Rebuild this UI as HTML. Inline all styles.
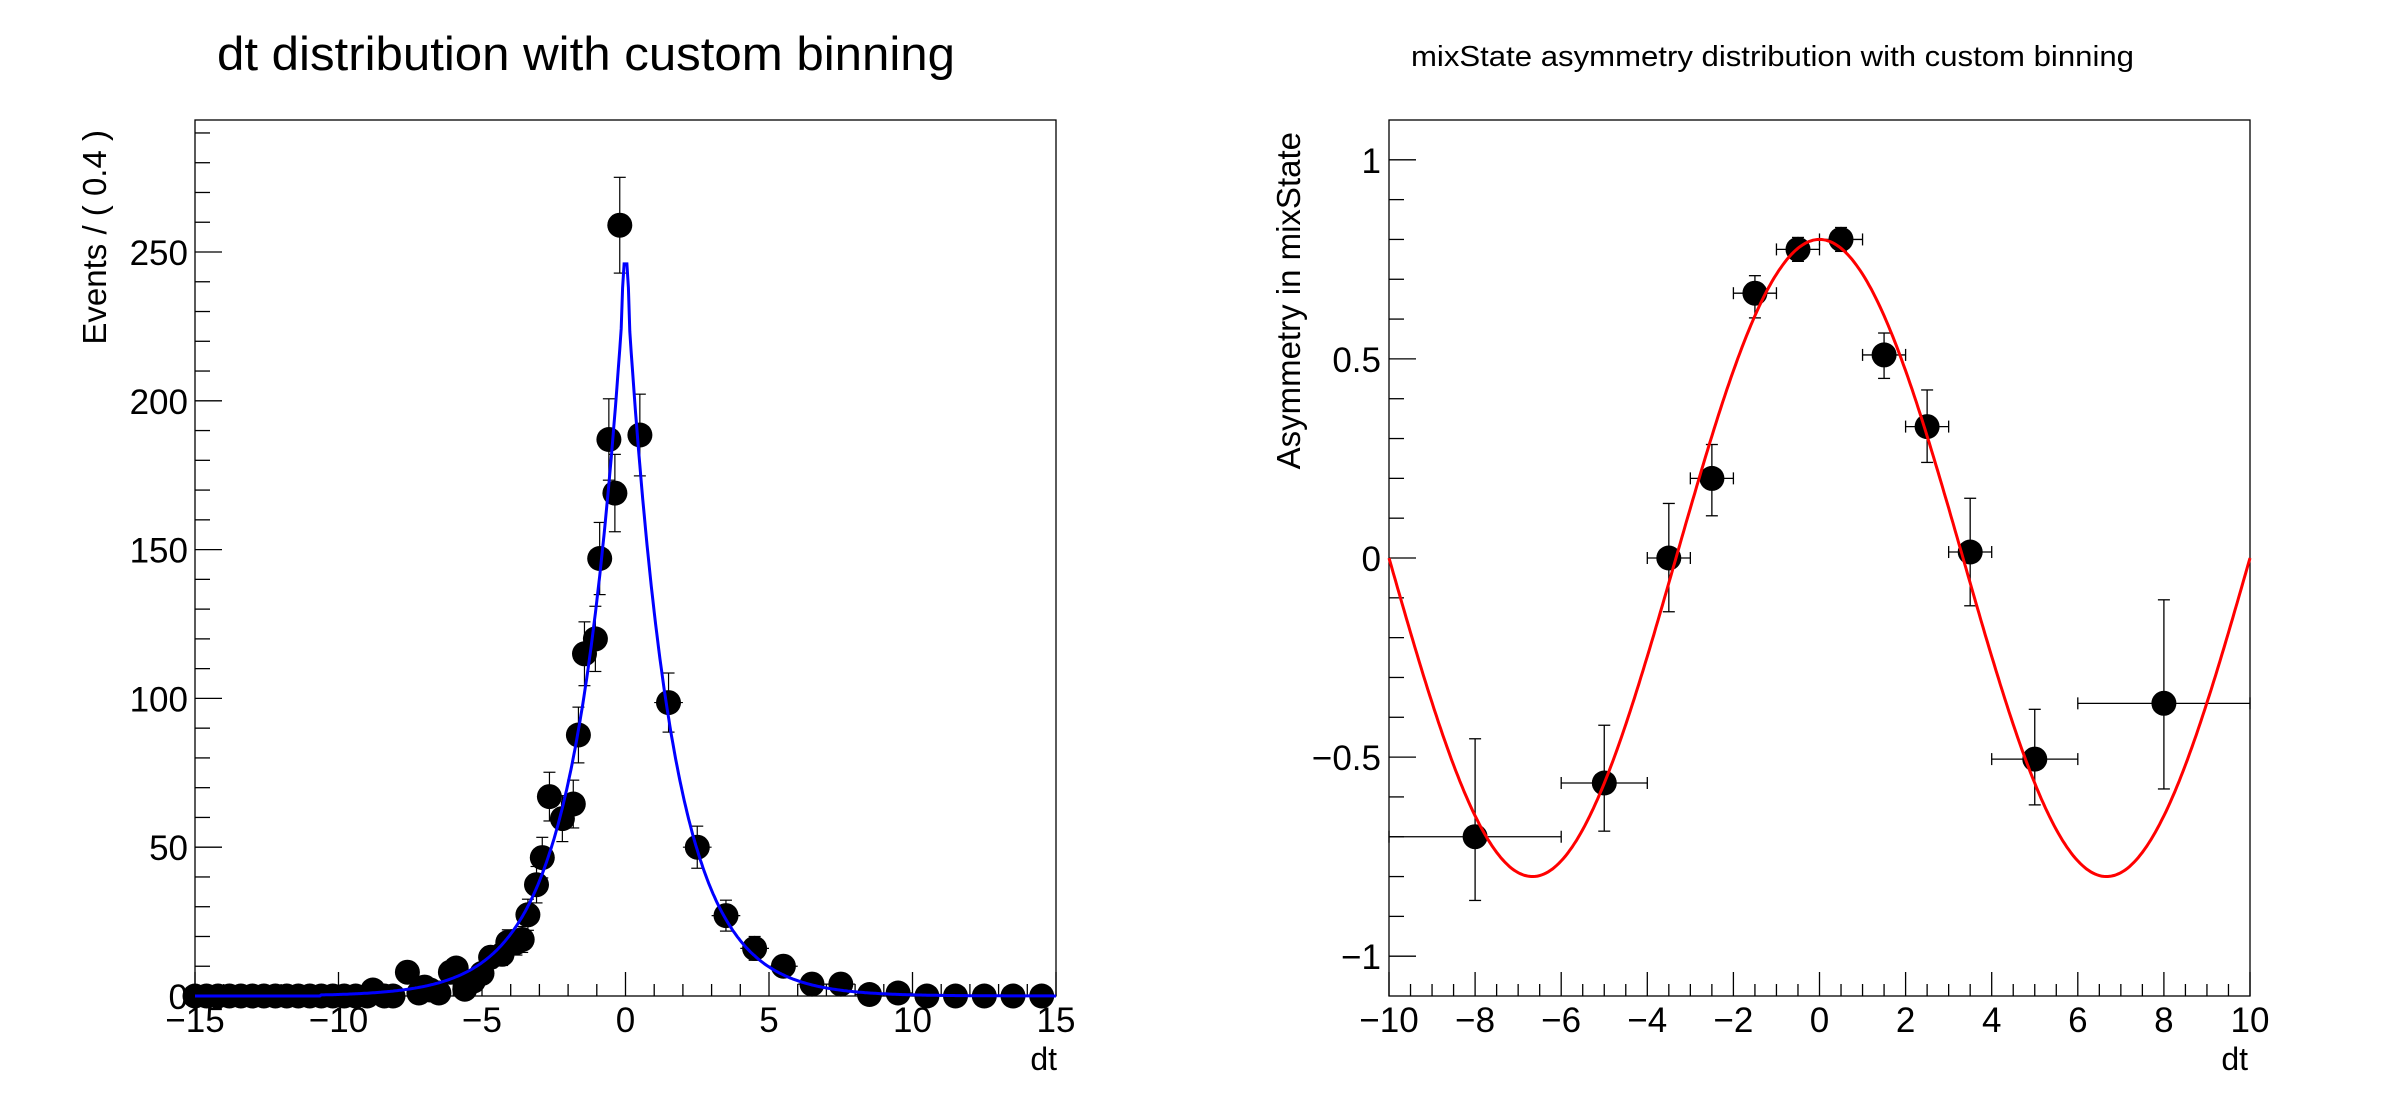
<!DOCTYPE html>
<html><head><meta charset="utf-8"><style>
html,body{margin:0;padding:0;background:#fff;}
svg{display:block;font-family:"Liberation Sans",sans-serif;}
</style></head><body>
<svg id="s" width="2388" height="1116" xmlns="http://www.w3.org/2000/svg">
<rect width="2388" height="1116" fill="#fff"/>
<text x="217" y="70" font-size="47" textLength="738" lengthAdjust="spacingAndGlyphs">dt distribution with custom binning</text>
<text x="1411" y="66" font-size="29" textLength="723" lengthAdjust="spacingAndGlyphs">mixState asymmetry distribution with custom binning</text>
<text transform="translate(106,130) rotate(-90)" font-size="33" text-anchor="end">Events / ( 0.4 )</text>
<text transform="translate(1300,132) rotate(-90)" font-size="33" text-anchor="end">Asymmetry in mixState</text>
<text x="1057" y="1070" font-size="32" text-anchor="end">dt</text>
<text x="2248" y="1070" font-size="32" text-anchor="end">dt</text>
<g id="g"></g>
</svg>
<script>
var G=document.getElementById("g"),out="";
function L(x1,y1,x2,y2,c,w){out+='<line x1="'+x1+'" y1="'+y1+'" x2="'+x2+'" y2="'+y2+'" stroke="'+(c||"#000")+'" stroke-width="'+(w||1.3)+'"/>';}
function T(x,y,s,a,fs){out+='<text x="'+x+'" y="'+y+'" font-size="'+(fs||35)+'" text-anchor="'+a+'">'+s+'</text>';}
var TP=120,BT=996;
var lx0=195,lx1=1056;
function LX(v){return lx0+(v+15)*(lx1-lx0)/30;}
function LY(v){return BT-v*2.976;}
out+='<rect x="'+lx0+'" y="'+TP+'" width="'+(lx1-lx0)+'" height="'+(BT-TP)+'" fill="none" stroke="#000" stroke-width="1.3"/>';
for(var v=-15;v<=15;v++){var maj=(v%5==0);L(LX(v),BT,LX(v),BT-(maj?24:12));if(maj)T(LX(v),1032,(v<0?"\u2212":"")+Math.abs(v),"middle");}
for(var v=0;v<=290;v+=10){var maj=(v%50==0);L(lx0,LY(v),lx0+(maj?27:15),LY(v));if(maj)T(188,LY(v)+13,v,"end");}
var ld=[[-0.2,259],[0.5,188.5],[-0.58,187],[-0.37,169],[-0.9,147],[-1.05,120],[-1.43,115],[-1.64,87.7],[-1.82,64.5],[-2.2,59.6],[-2.65,67],[-2.9,46.5],[-3.1,37.4],[-3.4,27.3],[-3.6,19],[-4.1,18],[-4.3,14],[-4.7,13],[-5.0,7.6],[-5.6,2.3],[-5.9,9.4],[-6.1,8],[-6.5,1],[-7.2,1],[-7.6,8],[-8.1,0],[-8.8,2],[-8.4,0],[-7.0,3],[-6.8,2],[-5.3,5],[-3.8,18],
[1.5,98.6],[2.5,50],[3.5,27],[4.5,16],[5.5,10],[6.5,4],[7.5,4],[8.5,0.5],[9.5,1],[10.5,0],[11.5,0],[12.5,0],[13.5,0],[14.5,0]];
for(var x=-15;x<-8.9;x+=0.4)ld.push([x,0]);
ld.forEach(function(p){var x=p[0],y=p[1],e=Math.sqrt(y),hw=(x>1)?0.5:0.2;
 if(e>0){L(LX(x),LY(y+e),LX(x),LY(Math.max(0,y-e)),"#000",1.2);
 L(LX(x)-6,LY(y+e),LX(x)+6,LY(y+e),"#000",1.2);L(LX(x)-6,LY(y-e),LX(x)+6,LY(y-e),"#000",1.2);}
 L(LX(x-hw),LY(y),LX(x+hw),LY(y),"#000",1.2);
 out+='<circle cx="'+LX(x).toFixed(1)+'" cy="'+LY(y).toFixed(1)+'" r="12.5" fill="#000"/>';});
var pts=[];
for(var x=-15;x<=15.001;x+=0.05){var y;
 if(x>=0)y=246*Math.exp(-x/1.55);else y=246*Math.exp(x/1.62);
 if(Math.abs(x)<0.12)y=246-(Math.abs(x)<0.06?0:8);
 if(x<-10.6)y=0;
 pts.push(LX(x).toFixed(1)+","+Math.min(BT,LY(y)).toFixed(1));}
out+='<polyline points="'+pts.join(" ")+'" fill="none" stroke="#0000ff" stroke-width="3"/>';
var rx0=1389,rx1=2250;
function RX(v){return rx0+(v+10)*(rx1-rx0)/20;}
function RY(v){return 558-v*398.2;}
out+='<rect x="'+rx0+'" y="'+TP+'" width="'+(rx1-rx0)+'" height="'+(BT-TP)+'" fill="none" stroke="#000" stroke-width="1.3"/>';
for(var i=-20;i<=20;i++){var v=i/2,maj=(i%4==0);L(RX(v),BT,RX(v),BT-(maj?24:12));if(maj)T(RX(v),1032,(v<0?"\u2212":"")+Math.abs(v),"middle");}
for(var i=-10;i<=10;i++){var v=i/10,maj=(i%5==0);L(rx0,RY(v),rx0+(maj?27:15),RY(v));if(maj){var s=(v<0?"\u2212":"")+Math.abs(v);T(1381,RY(v)+13,s,"end");}}
var rd=[[-8,-0.70,-10,-6,-0.454,-0.86],[-5,-0.565,-6,-4,-0.42,-0.686],[-3.5,0,-4,-3,0.137,-0.135],[-2.5,0.2,-3,-2,0.285,0.106],[-1.5,0.665,-2,-1,0.709,0.603],[-0.5,0.775,-1,0,0.805,0.745],[0.5,0.8,0,1,0.83,0.77],[1.5,0.51,1,2,0.565,0.451],[2.5,0.33,2,3,0.422,0.24],[3.5,0.015,3,4,0.15,-0.12],[5,-0.505,4,6,-0.38,-0.62],[8,-0.365,6,10,-0.105,-0.58]];
rd.forEach(function(p){var x=RX(p[0]),y=RY(p[1]);
 L(x,RY(p[4]),x,RY(p[5]),"#000",1.3);
 L(x-6,RY(p[4]),x+6,RY(p[4]),"#000",1.3);L(x-6,RY(p[5]),x+6,RY(p[5]),"#000",1.3);
 L(RX(p[2]),y,RX(p[3]),y,"#000",1.3);
 L(RX(p[2]),y-6,RX(p[2]),y+6,"#000",1.3);L(RX(p[3]),y-6,RX(p[3]),y+6,"#000",1.3);
 out+='<circle cx="'+x.toFixed(1)+'" cy="'+y.toFixed(1)+'" r="12.5" fill="#000"/>';});
pts=[];
for(var x=-10;x<=10.001;x+=0.05){pts.push(RX(x).toFixed(1)+","+RY(0.8*Math.cos(0.4712*x)).toFixed(1));}
out+='<polyline points="'+pts.join(" ")+'" fill="none" stroke="#ff0000" stroke-width="3"/>';
G.innerHTML=out;
</script>
</body></html>
